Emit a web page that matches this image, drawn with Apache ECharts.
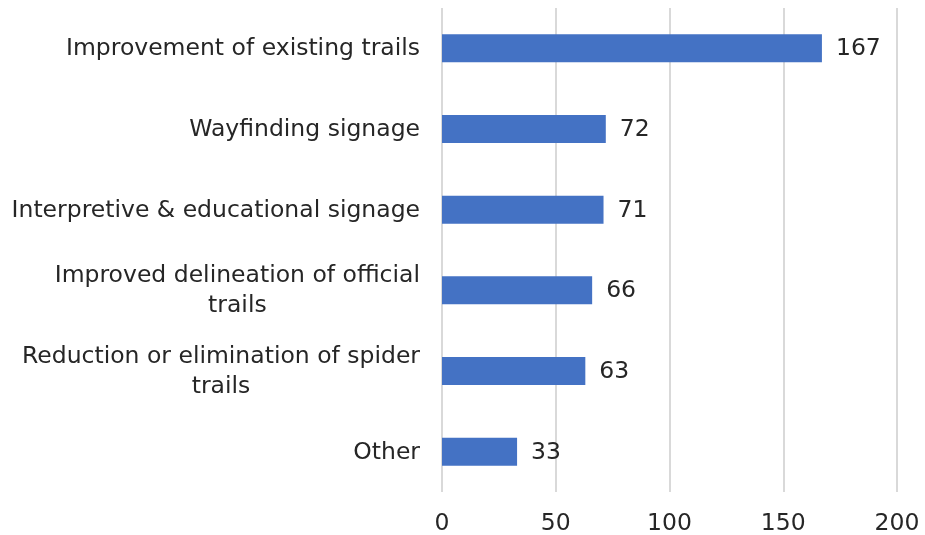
<!DOCTYPE html>
<html>
<head>
<meta charset="utf-8">
<script src="https://cdn.jsdelivr.net/npm/echarts@6/dist/echarts.min.js"></script>
<style>
  html, body { margin: 0; padding: 0; background: #fff; }
  #chart { width: 925px; height: 535px; }
</style>
</head>
<body>
<div id="chart"></div>
<script>
// categories listed top to bottom
const categories = [
  'Improvement of existing trails',
  'Wayfinding signage',
  'Interpretive & educational signage',
  'Improved delineation of official\ntrails',
  'Reduction or elimination of spider\ntrails',
  'Other'
]
const counts = [167, 72, 71, 66, 63, 33]
const xTicks = [0, 50, 100, 150, 200]

const FONT = 'DejaVu Sans'
const SIZE = 23.5
const TEXT = '#262626'

const chart = echarts.init(document.getElementById('chart'), null, { renderer: 'canvas' })

const option = {
  animation: false,
  backgroundColor: '#ffffff',
  grid: {
    left: 442,
    right: 28,
    top: 8,
    bottom: 43,
    outerBoundsMode: 'none'
  },
  xAxis: {
    type: 'value',
    min: xTicks[0],
    max: xTicks[xTicks.length - 1],
    interval: 50,
    axisLine: { show: false },
    axisTick: { show: false },
    splitLine: { show: true, lineStyle: { color: '#d9d9d9', width: 2 } },
    axisLabel: {
      fontFamily: FONT,
      fontSize: SIZE,
      color: TEXT,
      margin: 20
    }
  },
  yAxis: {
    type: 'category',
    inverse: true,
    data: categories,
    axisLine: { show: false },
    axisTick: { show: false },
    axisLabel: {
      fontFamily: FONT,
      fontSize: SIZE,
      color: TEXT,
      margin: 22,
      lineHeight: 30,
      // multi-line labels: lines centred within the block, block right-aligned
      formatter: (value) => value.split('\n').map(l => `{c|${l}}`).join('\n'),
      rich: {
        c: {
          align: 'center',
          fontFamily: FONT,
          fontSize: SIZE,
          color: TEXT,
          lineHeight: 30,
          padding: [2, 0, 0, 0]
        }
      }
    }
  },
  series: [
    {
      type: 'bar',
      data: counts,
      barWidth: 28,
      itemStyle: { color: '#4472C4' },
      label: {
        show: true,
        position: 'right',
        distance: 14,
        offset: [0, 1],
        fontFamily: FONT,
        fontSize: SIZE,
        color: TEXT
      }
    }
  ]
}

chart.setOption(option)
</script>
</body>
</html>
